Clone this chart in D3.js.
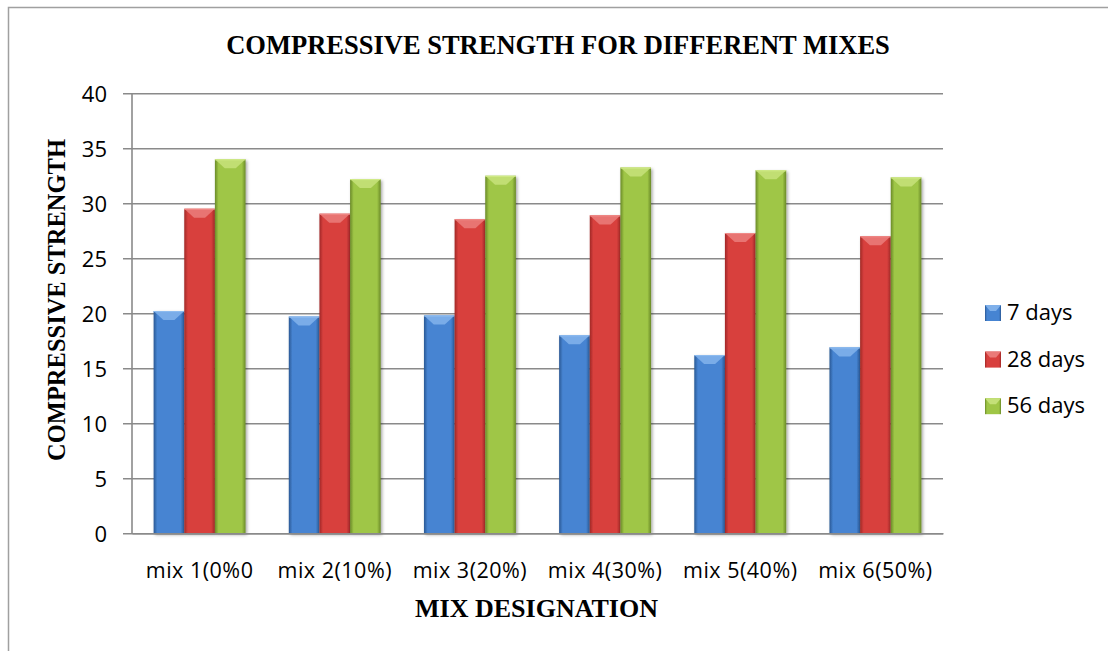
<!DOCTYPE html>
<html><head><meta charset="utf-8">
<script src="https://cdn.jsdelivr.net/npm/d3@7"></script>
<style>body{margin:0;background:#fff;} svg{display:block}</style>
</head><body><svg id="c" width="1108" height="651"></svg>
<script>
const categories = ["mix 1(0%0","mix 2(10%)","mix 3(20%)","mix 4(30%)","mix 5(40%)","mix 6(50%)"];
const seriesNames = ["7 days","28 days","56 days"];
const days7  = [20.2, 19.7, 19.8, 18.0, 16.2, 16.9];
const days28 = [29.5, 29.05, 28.55, 28.9, 27.3, 27.0];
const days56 = [34.0, 32.2, 32.5, 33.25, 33.0, 32.35];
const yTicks = [0,5,10,15,20,25,30,35,40];
const titleText = "COMPRESSIVE STRENGTH FOR DIFFERENT MIXES";
const xTitle = "MIX DESIGNATION";
const yTitle = "COMPRESSIVE STRENGTH";

const seriesValues = [days7, days28, days56];
const colors = [
  {dark:"#2a5894", mid:"#4684d2", light:"#8fbdf0", cap:"#7fb0ea"},
  {dark:"#a02826", mid:"#d8403e", light:"#f08a88", cap:"#ea7a78"},
  {dark:"#6a8a28", mid:"#9fc646", light:"#d2ec8a", cap:"#c4e078"}
];

const svg = d3.select("#c");
const L = 132, R = 943, T = 93.3, B = 533.3;
const W = R - L, H = B - T;

// frame
svg.append("path").attr("d","M8.5,651 L8.5,7.5 L1108,7.5")
  .attr("fill","none").attr("stroke","#a0a0a0").attr("stroke-width",1.5);

const defs = svg.append("defs");
colors.forEach((c,i)=>{
  const g = defs.append("linearGradient").attr("id","g"+i).attr("x1","0").attr("x2","1").attr("y1","0").attr("y2","0");
  g.append("stop").attr("offset","0%").attr("stop-color",c.dark);
  g.append("stop").attr("offset","12%").attr("stop-color",c.mid);
  g.append("stop").attr("offset","88%").attr("stop-color",c.mid);
  g.append("stop").attr("offset","100%").attr("stop-color",c.dark);
});
const f = defs.append("filter").attr("id","sh").attr("x","-20%").attr("y","-5%").attr("width","150%").attr("height","115%");
f.append("feDropShadow").attr("dx",1.5).attr("dy",1.5).attr("stdDeviation",1.5).attr("flood-color","#000").attr("flood-opacity",0.35);

const y = d3.scaleLinear().domain([0,40]).range([B,T]);
const x = d3.scaleBand().domain(categories).range([L,R]).paddingInner(0.32).paddingOuter(0.16);
const xs = d3.scaleBand().domain(d3.range(seriesNames.length)).range([0,x.bandwidth()]).padding(0);

// grid + y axis
const gy = svg.append("g").attr("transform",`translate(${L},0)`)
  .call(d3.axisLeft(y).tickValues(yTicks).tickSize(-W).tickPadding(25).tickSizeOuter(0));
gy.select(".domain").remove();
gy.selectAll(".tick line").attr("x1",-9).attr("x2",W).attr("stroke","#8a8a8a").attr("stroke-width",1.6);
gy.selectAll(".tick text").attr("font-family","'Open Sans', sans-serif").attr("font-size",22)
  .attr("fill","#000").attr("dy","0.36em");
svg.append("line").attr("x1",L).attr("x2",L).attr("y1",T).attr("y2",B)
  .attr("stroke","#8a8a8a").attr("stroke-width",1.6);

// bars
const groups = svg.append("g").selectAll("g").data(categories).join("g")
  .attr("transform",d=>`translate(${x(d)},0)`);
seriesNames.forEach((s,si)=>{
  const vals = seriesValues[si];
  const bw = xs.bandwidth();
  groups.append("rect")
    .attr("x", xs(si)).attr("width", bw)
    .attr("y",(d,i)=>y(vals[i])).attr("height",(d,i)=>B - y(vals[i]))
    .attr("fill",`url(#g${si})`).attr("filter","url(#sh)");
  groups.append("path")
    .attr("d",(d,i)=>{
      const x0 = xs(si), yt = y(vals[i]);
      return `M${x0},${yt} L${x0+bw},${yt} L${x0+bw*0.68},${yt+9} L${x0+bw*0.32},${yt+9} Z`;
    })
    .attr("fill",colors[si].cap).attr("opacity",0.9);
  groups.append("line")
    .attr("x1",xs(si)).attr("x2",xs(si)+bw)
    .attr("y1",(d,i)=>y(vals[i])+0.5).attr("y2",(d,i)=>y(vals[i])+0.5)
    .attr("stroke",colors[si].light).attr("stroke-width",1);
});

// x axis
const gx = svg.append("g").attr("transform",`translate(0,${B})`)
  .call(d3.axisBottom(x).tickSize(0).tickPadding(0));
gx.select(".domain").attr("stroke","#8a8a8a").attr("stroke-width",1.6);
gx.selectAll(".tick text").attr("font-family","'Open Sans', sans-serif").attr("font-size",21.5)
  .attr("letter-spacing","0.5px").attr("fill","#000").attr("y",45).attr("dy",0);

// titles
svg.append("text").attr("x",558).attr("y",54).attr("text-anchor","middle")
  .attr("font-family","'Liberation Serif', 'Times New Roman', serif").attr("font-weight","bold")
  .attr("font-size",26.5).text(titleText);
svg.append("text").attr("x",536.5).attr("y",617).attr("text-anchor","middle")
  .attr("font-family","'Liberation Serif', 'Times New Roman', serif").attr("font-weight","bold")
  .attr("font-size",26).text(xTitle);
svg.append("text").attr("transform","translate(65,300) rotate(-90)").attr("text-anchor","middle")
  .attr("font-family","'Liberation Serif', 'Times New Roman', serif").attr("font-weight","bold")
  .attr("font-size",24.5).text(yTitle);

// legend
const lg = svg.append("g").selectAll("g").data(seriesNames).join("g")
  .attr("transform",(d,i)=>`translate(985,${305 + i*46.6})`);
lg.append("rect").attr("width",16).attr("height",16).attr("fill",(d,i)=>`url(#g${i})`);
lg.append("path").attr("d","M0,0 L16,0 L11,6 L5,6 Z").attr("fill",(d,i)=>colors[i].cap);
lg.append("text").attr("x",22).attr("y",15).attr("font-family","'Open Sans', sans-serif")
  .attr("font-size",22).attr("fill","#000").text(d=>d);
</script></body></html>
